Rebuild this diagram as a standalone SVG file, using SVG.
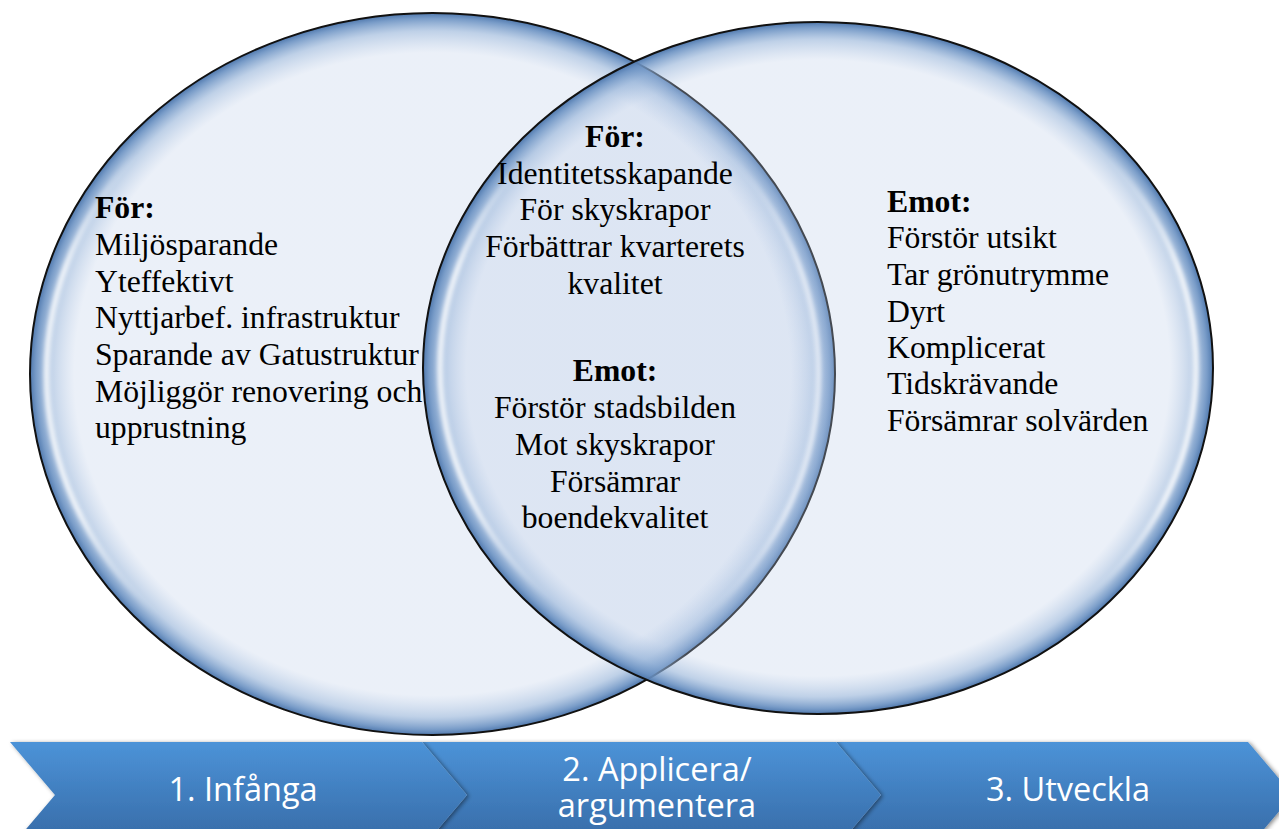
<svg xmlns="http://www.w3.org/2000/svg" width="1279" height="829" viewBox="0 0 1279 829">
  <defs>
    <radialGradient id="rim" cx="0.5" cy="0.5" r="0.5">
      <stop offset="0" stop-color="#BCCDE8" stop-opacity="0.3"/>
      <stop offset="0.89" stop-color="#BCCDE8" stop-opacity="0.3"/>
      <stop offset="0.95" stop-color="#94B2D8" stop-opacity="0.6"/>
      <stop offset="0.985" stop-color="#6A91C2" stop-opacity="0.9"/>
      <stop offset="1" stop-color="#4F78AD" stop-opacity="1"/>
    </radialGradient>
    <linearGradient id="hl" x1="0" y1="0" x2="0" y2="1">
      <stop offset="0" stop-color="#FFFFFF" stop-opacity="0"/>
      <stop offset="0.18" stop-color="#FFFFFF" stop-opacity="0"/>
      <stop offset="0.35" stop-color="#FFFFFF" stop-opacity="0.9"/>
      <stop offset="0.7" stop-color="#FFFFFF" stop-opacity="0.9"/>
      <stop offset="0.85" stop-color="#FFFFFF" stop-opacity="0"/>
      <stop offset="1" stop-color="#FFFFFF" stop-opacity="0"/>
    </linearGradient>
    <linearGradient id="chev" x1="0" y1="0" x2="0" y2="1">
      <stop offset="0" stop-color="#4C93D8"/>
      <stop offset="1" stop-color="#3568A3"/>
    </linearGradient>
    <filter id="blur" x="-5%" y="-5%" width="110%" height="110%">
      <feGaussianBlur stdDeviation="2"/>
    </filter>
    <filter id="shadow" x="-5%" y="-20%" width="110%" height="140%">
      <feDropShadow dx="2" dy="1" stdDeviation="2" flood-color="#000" flood-opacity="0.45"/>
    </filter>
    <style>
      .circ { fill: url(#rim); stroke: #111; stroke-width: 2; }
      .hl { fill: none; stroke: url(#hl); stroke-width: 5; filter: url(#blur); }
      .txt { font-family: "Liberation Serif", "Times New Roman", serif; font-size: 31.7px; fill: #000; }
      .b { font-weight: bold; }
      .mid { text-anchor: middle; }
      .chv { fill: url(#chev); filter: url(#shadow); }
      .ctxt { font-family: "Open Sans", "Liberation Sans", sans-serif; font-size: 32.5px; fill: #FFFFFF; text-anchor: middle; }
    </style>
  </defs>

  <rect width="1279" height="829" fill="#FFFFFF"/>

  <g id="circle-left">
    <ellipse class="circ" cx="432.5" cy="374" rx="402.5" ry="361"/>
    <ellipse class="hl" cx="432.5" cy="374" rx="386" ry="345"/>
  </g>
  <g id="circle-right">
    <ellipse class="circ" cx="818" cy="368" rx="395" ry="346"/>
    <ellipse class="hl" cx="818" cy="368" rx="378" ry="330"/>
  </g>

  <g id="text-left" class="txt">
    <text x="95" y="218" class="b">För:</text>
    <text x="95" y="255">Miljösparande</text>
    <text x="95" y="292">Yteffektivt</text>
    <text x="95" y="328">Nyttjarbef. infrastruktur</text>
    <text x="95" y="365">Sparande av Gatustruktur</text>
    <text x="95" y="402">Möjliggör renovering och</text>
    <text x="95" y="438">upprustning</text>
  </g>

  <g id="text-overlap" class="txt mid">
    <text x="615" y="147" class="b">För:</text>
    <text x="615" y="184">Identitetsskapande</text>
    <text x="615" y="220">För skyskrapor</text>
    <text x="615" y="257">Förbättrar kvarterets</text>
    <text x="615" y="294">kvalitet</text>
    <text x="615" y="381" class="b">Emot:</text>
    <text x="615" y="418">Förstör stadsbilden</text>
    <text x="615" y="455">Mot skyskrapor</text>
    <text x="615" y="492">Försämrar</text>
    <text x="615" y="528">boendekvalitet</text>
  </g>

  <g id="text-right" class="txt">
    <text x="887" y="212" class="b">Emot:</text>
    <text x="887" y="248">Förstör utsikt</text>
    <text x="887" y="285">Tar grönutrymme</text>
    <text x="887" y="322">Dyrt</text>
    <text x="887" y="358">Komplicerat</text>
    <text x="887" y="394">Tidskrävande</text>
    <text x="887" y="431">Försämrar solvärden</text>
  </g>

  <g id="chevron-3">
    <polygon class="chv" points="836,742 1248,742 1293,795 1248,848 836,848 881,795"/>
    <text class="ctxt" x="1068" y="801">3. Utveckla</text>
  </g>
  <g id="chevron-2">
    <polygon class="chv" points="422,742 836,742 881,795 836,848 422,848 467,795"/>
    <text class="ctxt" x="657" y="781"><tspan x="657" y="781">2. Applicera/</tspan><tspan x="657" y="817">argumentera</tspan></text>
  </g>
  <g id="chevron-1">
    <polygon class="chv" points="10,742 422,742 467,795 422,848 10,848 55,795"/>
    <text class="ctxt" x="243" y="801">1. Infånga</text>
  </g>
</svg>
